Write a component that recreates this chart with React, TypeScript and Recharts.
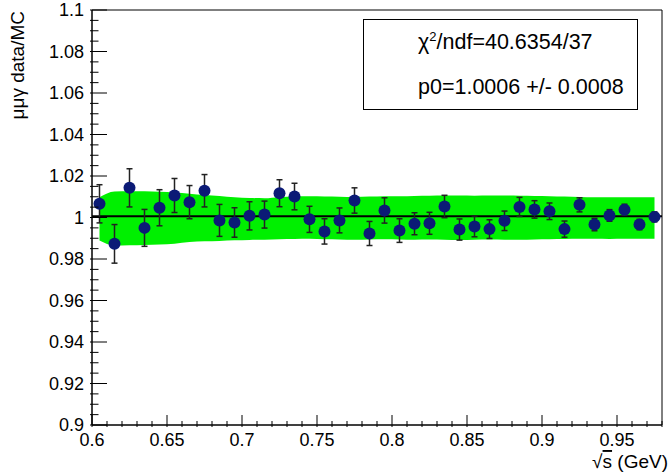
import React from "react";
import { ComposedChart, Area, Scatter, ErrorBar, XAxis, YAxis, ReferenceLine, ReferenceArea } from "recharts";

// bin centres in sqrt(s) [GeV]
const energy = [
  0.605, 0.615, 0.625, 0.635, 0.645, 0.655, 0.665, 0.675, 0.685, 0.695,
  0.705, 0.715, 0.725, 0.735, 0.745, 0.755, 0.765, 0.775, 0.785, 0.795,
  0.805, 0.815, 0.825, 0.835, 0.845, 0.855, 0.865, 0.875, 0.885, 0.895,
  0.905, 0.915, 0.925, 0.935, 0.945, 0.955, 0.965, 0.975,
];

// data / MC ratio and its error
const ratio = [
  1.0066, 0.9873, 1.0143, 0.995, 1.0047, 1.0106, 1.0074, 1.0129, 0.9986, 0.9976,
  1.0008, 1.0014, 1.0117, 1.0101, 0.9991, 0.9933, 0.9986, 1.0082, 0.9923, 1.0034,
  0.9937, 0.997, 0.9972, 1.0053, 0.9942, 0.9957, 0.9944, 0.9984, 1.0051, 1.0039,
  1.003, 0.9944, 1.0061, 0.9966, 1.001, 1.0037, 0.9966, 1.0003,
];
const ratioErr = [
  0.0092, 0.0093, 0.0092, 0.0089, 0.0087, 0.0082, 0.008, 0.0078, 0.0077, 0.0071,
  0.0068, 0.0065, 0.0065, 0.0064, 0.0063, 0.0061, 0.006, 0.0061, 0.0058, 0.0061,
  0.0057, 0.0053, 0.0053, 0.0054, 0.0051, 0.005, 0.0045, 0.0047, 0.0046, 0.0042,
  0.004, 0.0039, 0.0034, 0.003, 0.0028, 0.0027, 0.0025, 0.0024,
];

// systematic band (green)
const bandLow = [
  0.9889, 0.9865, 0.9866, 0.9868, 0.987, 0.9874, 0.9882, 0.9885, 0.9887, 0.989,
  0.9892, 0.9893, 0.9895, 0.9896, 0.9897, 0.9895, 0.9894, 0.9893, 0.9894, 0.9895,
  0.9894, 0.9893, 0.9894, 0.9893, 0.9892, 0.9893, 0.9894, 0.9893, 0.9893, 0.9894,
  0.9895, 0.9896, 0.9897, 0.9897, 0.9896, 0.9897, 0.9897, 0.9897,
];
const bandHigh = [
  1.0098, 1.0125, 1.0127, 1.0126, 1.0124, 1.012, 1.0115, 1.0108, 1.0104, 1.0097,
  1.0094, 1.0093, 1.0098, 1.0101, 1.0102, 1.0101, 1.01, 1.0099, 1.0101, 1.0103,
  1.0103, 1.0104, 1.0105, 1.0106, 1.0106, 1.0105, 1.0106, 1.0106, 1.0105, 1.0104,
  1.0103, 1.0101, 1.0099, 1.0098, 1.0098, 1.0098, 1.0098, 1.0098,
];

const fitP0 = 1.0006;
const xMajorTicks = [0.6, 0.65, 0.7, 0.75, 0.8, 0.85, 0.9, 0.95];
const yMajorTicks = [0.9, 0.92, 0.94, 0.96, 0.98, 1, 1.02, 1.04, 1.06, 1.08, 1.1];

const data = energy.map((x, i) => ({
  x,
  ratio: ratio[i],
  err: ratioErr[i],
  band: [bandLow[i], bandHigh[i]],
}));

const font = "'Liberation Sans', Arial, Helvetica, sans-serif";

const makeTicks = (start: number, end: number, step: number) => {
  const out: number[] = [];
  const n = Math.round((end - start) / step);
  for (let i = 0; i <= n; i++) out.push(Number((start + i * step).toFixed(4)));
  return out;
};
const xTicks = makeTicks(0.6, 0.98, 0.01);
const yTicks = makeTicks(0.9, 1.1, 0.005);
const isMajor = (v: number, list: number[]) => list.some((m) => Math.abs(m - v) < 1e-6);
const fmt = (v: number) => String(Number(v.toFixed(3)));

const XTick = ({ x, y, payload }: any) => {
  const major = isMajor(payload.value, xMajorTicks);
  return (
    <g>
      <line x1={x} x2={x} y1={y} y2={y - (major ? 12 : 6)} stroke="#000" strokeWidth={1} />
      {major && (
        <text x={x} y={y + 19} textAnchor="middle" fontSize={18} fontFamily={font} fill="#000">
          {fmt(payload.value)}
        </text>
      )}
    </g>
  );
};

const YTick = ({ x, y, payload }: any) => {
  const major = isMajor(payload.value, yMajorTicks);
  return (
    <g>
      <line x1={x} x2={x + (major ? 17 : 8.5)} y1={y} y2={y} stroke="#000" strokeWidth={1} />
      {major && (
        <text x={x - 6} y={y} dy="0.35em" textAnchor="end" fontSize={18} fontFamily={font} fill="#000">
          {fmt(payload.value)}
        </text>
      )}
    </g>
  );
};

const Marker = (props: any) => <circle cx={props.cx} cy={props.cy} r={6} fill="#0b1a76" />;

const YTitle = (props: any) => {
  const vb = props.viewBox;
  return (
    <text
      x={vb.x + 24}
      y={vb.y + 1}
      transform={`rotate(-90 ${vb.x + 24} ${vb.y + 1})`}
      textAnchor="end"
      fontSize={19}
      fontFamily={font}
      fill="#000"
    >
      μμγ data/MC
    </text>
  );
};

const XTitle = (props: any) => {
  const vb = props.viewBox;
  return (
    <text x={vb.x + vb.width + 6} y={vb.y + 43} textAnchor="end" fontSize={19} fontFamily={font} fill="#000">
      √<tspan textDecoration="overline">s</tspan> (GeV)
    </text>
  );
};

export default function App() {
  return (
    <div style={{ position: "fixed", left: 0, top: 0, width: 671, height: 473, background: "#fff" }}>
      <ComposedChart width={671} height={473} data={data} margin={{ top: 10, right: 9, bottom: 18, left: 0 }}>
        <XAxis
          dataKey="x"
          type="number"
          domain={[0.6, 0.98]}
          ticks={xTicks}
          interval={0}
          tickSize={0}
          tickLine={false}
          tick={<XTick />}
          axisLine={{ stroke: "#000" }}
          height={30}
          allowDataOverflow
          label={<XTitle />}
        />
        <YAxis
          type="number"
          domain={[0.9, 1.1]}
          ticks={yTicks}
          interval={0}
          tickSize={0}
          tickLine={false}
          tick={<YTick />}
          axisLine={{ stroke: "#000" }}
          width={92}
          allowDataOverflow
          label={<YTitle />}
        />
        <Area
          dataKey="band"
          type="monotone"
          stroke="none"
          fill="#00f000"
          fillOpacity={1}
          isAnimationActive={false}
        />
        <ReferenceArea x1={0.6} x2={0.98} y1={0.9} y2={1.1} fill="none" stroke="#000" strokeWidth={1} />
        <ReferenceLine y={fitP0} stroke="#000" strokeWidth={2} />
        <Scatter dataKey="ratio" shape={<Marker />} isAnimationActive={false}>
          <ErrorBar dataKey="err" direction="y" width={3} stroke="#222" strokeWidth={1.5} />
        </Scatter>
      </ComposedChart>
      <div
        style={{
          position: "absolute",
          left: 363,
          top: 19,
          width: 273,
          height: 89,
          border: "1px solid #000",
          background: "#fff",
          fontFamily: font,
          fontSize: 21.5,
          color: "#000",
        }}
      >
        <div style={{ position: "absolute", left: 54, top: 9, whiteSpace: "nowrap" }}>
          χ<sup style={{ fontSize: 13 }}>2</sup>/ndf=40.6354/37
        </div>
        <div style={{ position: "absolute", left: 54, top: 55, whiteSpace: "nowrap" }}>
          p0=1.0006 +/- 0.0008
        </div>
      </div>
    </div>
  );
}
